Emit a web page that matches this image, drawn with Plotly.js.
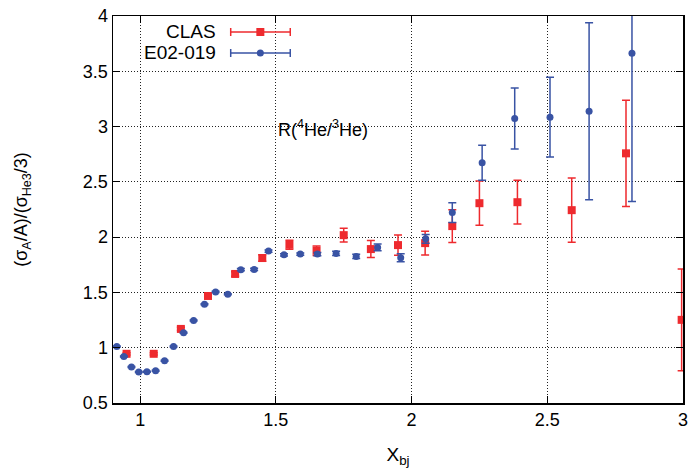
<!DOCTYPE html>
<html>
<head>
<meta charset="utf-8">
<script src="https://cdn.plot.ly/plotly-3.0.1.min.js"></script>
<style>html,body{margin:0;padding:0;background:#fff;}#chart{width:689px;height:471px;}</style>
</head>
<body>
<div id="chart"></div>
<script>
// CLAS data
const clasX = [0.95, 1.05, 1.15, 1.25, 1.35, 1.45, 1.55, 1.65, 1.75, 1.85, 1.95, 2.05, 2.15, 2.25, 2.39, 2.59, 2.79, 2.995];
const clasY = [0.945, 0.945, 1.17, 1.468, 1.667, 1.811, 1.931, 1.877, 2.018, 1.892, 1.928, 1.946, 2.10, 2.307, 2.316, 2.244, 2.758, 1.252];
const clasErr = [0.01, 0.01, 0.015, 0.015, 0.02, 0.03, 0.04, 0.042, 0.063, 0.077, 0.092, 0.108, 0.148, 0.2, 0.198, 0.29, 0.48, 0.46];

// E02-019 data
const e02X = [0.914, 0.940, 0.968, 0.995, 1.025, 1.057, 1.090, 1.123, 1.160, 1.197, 1.237, 1.278, 1.323, 1.371, 1.420, 1.473, 1.530, 1.590, 1.653, 1.722, 1.796, 1.875, 1.960, 2.052, 2.150, 2.260, 2.380, 2.510, 2.654, 2.812];
const e02Y = [1.011, 0.921, 0.825, 0.78, 0.783, 0.792, 0.882, 1.011, 1.135, 1.246, 1.393, 1.505, 1.483, 1.706, 1.708, 1.874, 1.84, 1.847, 1.847, 1.853, 1.826, 1.907, 1.814, 1.985, 2.222, 2.673, 3.073, 3.085, 3.139, 3.662];
const e02Err = [0.005, 0.005, 0.005, 0.005, 0.005, 0.005, 0.005, 0.005, 0.005, 0.005, 0.005, 0.005, 0.005, 0.01, 0.01, 0.01, 0.01, 0.01, 0.015, 0.02, 0.02, 0.03, 0.036, 0.04, 0.09, 0.158, 0.276, 0.36, 0.80, 1.34];

const xTicks = [1, 1.5, 2, 2.5, 3];
const xTickLabels = ['1', '1.5', '2', '2.5', '3'];
const yTicks = [0.5, 1, 1.5, 2, 2.5, 3, 3.5, 4];
const yTickLabels = ['0.5', '1', '1.5', '2', '2.5', '3', '3.5', '4'];

const RED = '#ee2a2e';
const BLUE = '#3953a4';
const FONT = 'Liberation Sans, Arial, Helvetica, sans-serif';

const traces = [
  {
    x: clasX, y: clasY, type: 'scatter', mode: 'markers', name: 'CLAS',
    marker: {symbol: 'square', size: 8, color: RED},
    error_y: {type: 'data', array: clasErr, visible: true, color: RED, thickness: 1.5, width: 4},
    cliponaxis: true
  },
  {
    x: e02X, y: e02Y, type: 'scatter', mode: 'markers', name: 'E02-019',
    marker: {symbol: 'circle', size: 7, color: BLUE},
    error_y: {type: 'data', array: e02Err, visible: true, color: BLUE, thickness: 1.5, width: 4},
    cliponaxis: true
  }
];

// manual legend (sample on the right of text)
const legRows = [
  {name: 'CLAS', color: RED, symbol: 'rect', y: 0.9587},
  {name: 'E02-019', color: BLUE, symbol: 'circle', y: 0.9044}
];
const lx0 = 0.2065, lx1 = 0.311, lxm = 0.2585, ltx = 0.184;
const shapes = [];
const annotations = [];
legRows.forEach(r => {
  shapes.push({type: 'line', xref: 'paper', yref: 'paper', x0: lx0, x1: lx1, y0: r.y, y1: r.y, line: {color: r.color, width: 1.5}});
  [lx0, lx1].forEach(xx => shapes.push({type: 'line', xref: 'paper', yref: 'paper', xsizemode: 'scaled', ysizemode: 'pixel', yanchor: r.y, x0: xx, x1: xx, y0: -4, y1: 4, line: {color: r.color, width: 1.5}}));
  shapes.push({type: r.symbol, xref: 'paper', yref: 'paper', xsizemode: 'pixel', ysizemode: 'pixel', xanchor: lxm, yanchor: r.y,
    x0: r.symbol === 'rect' ? -4 : -3.5, x1: r.symbol === 'rect' ? 4 : 3.5, y0: r.symbol === 'rect' ? -4 : -3.5, y1: r.symbol === 'rect' ? 4 : 3.5,
    fillcolor: r.color, line: {color: r.color, width: 0}});
  annotations.push({xref: 'paper', yref: 'paper', x: ltx, y: r.y, xanchor: 'right', yanchor: 'middle', showarrow: false,
    text: r.name, font: {family: FONT, size: 19, color: '#000'}});
});
annotations.push({xref: 'x', yref: 'y', x: 1.5, y: 2.98, xanchor: 'left', yanchor: 'middle', showarrow: false,
  text: 'R(<sup>4</sup>He/<sup>3</sup>He)', font: {family: FONT, size: 18, color: '#000'}});

const axisCommon = {
  showline: true, linecolor: '#000', linewidth: 1.5, mirror: 'allticks',
  ticks: 'inside', ticklen: 7, tickcolor: '#000', tickwidth: 1,
  showgrid: true, gridcolor: '#222', gridwidth: 1, griddash: '1px,2px',
  zeroline: false, tickfont: {family: FONT, size: 18, color: '#000'}
};

const layout = {
  width: 689, height: 471,
  margin: {l: 113, r: 6, t: 16, b: 68},
  paper_bgcolor: '#fff', plot_bgcolor: '#fff',
  showlegend: false,
  font: {family: FONT, size: 18, color: '#000'},
  xaxis: Object.assign({}, axisCommon, {
    range: [0.9, 3], tickvals: xTicks, ticktext: xTickLabels,
    title: {text: 'X<sub>bj</sub>', font: {family: FONT, size: 19}, standoff: 18}
  }),
  yaxis: Object.assign({}, axisCommon, {
    range: [0.5, 4], tickvals: yTicks, ticktext: yTickLabels,
    title: {text: '(σ<sub>A</sub>/A)/(σ<sub>He3</sub>/3)', font: {family: FONT, size: 18}, standoff: 50}
  }),
  shapes: shapes,
  annotations: annotations
};

Plotly.newPlot('chart', traces, layout, {displayModeBar: false, staticPlot: true});
</script>
</body>
</html>
